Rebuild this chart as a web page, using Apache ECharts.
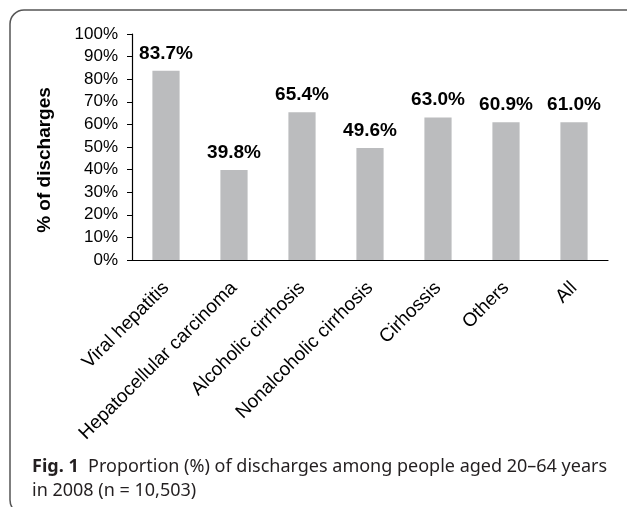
<!DOCTYPE html>
<html>
<head>
<meta charset="utf-8">
<script src="https://cdn.jsdelivr.net/npm/echarts@6/dist/echarts.min.js"></script>
<style>
  html, body { margin: 0; padding: 0; background: #fff; }
  #chart { width: 627px; height: 507px; }
</style>
</head>
<body>
<div id="chart"></div>
<script>
const categories = ['Viral hepatitis', 'Hepatocellular carcinoma', 'Alcoholic cirrhosis',
  'Nonalcoholic cirrhosis', 'Cirhossis', 'Others', 'All']
const shares = [83.7, 39.8, 65.4, 49.6, 63.0, 60.9, 61.0]
const yTicks = [0, 100, 10] // min, max, step

const axisFont = 'Liberation Sans, Arial, sans-serif'

const chart = echarts.init(document.getElementById('chart'))

const option = {
  animation: false,
  title: {
    left: 27,
    top: 450,
    text: '{b|Fig. 1}  Proportion (%) of discharges among people aged 20–64 years\nin 2008 (n = 10,503)',
    textStyle: {
      fontFamily: 'Noto Sans, sans-serif',
      fontSize: 18,
      fontWeight: 'normal',
      color: '#231f20',
      lineHeight: 24,
      rich: {
        b: { fontFamily: 'Noto Sans, sans-serif', fontSize: 18, fontWeight: 'bold', color: '#231f20', lineHeight: 24 }
      }
    }
  },
  graphic: [
    {
      type: 'rect',
      shape: { x: 10, y: 10, width: 650, height: 504, r: 14 },
      style: { fill: 'none', stroke: '#555', lineWidth: 1.5 }
    },
    {
      type: 'text',
      x: 45,
      y: 160,
      rotation: Math.PI / 2,
      style: {
        text: '% of discharges',
        font: 'bold 19px Liberation Sans, Arial, sans-serif',
        fill: '#000',
        align: 'center',
        verticalAlign: 'middle'
      }
    }
  ],
  grid: {
    left: 132,
    right: 19,
    top: 34,
    bottom: 247
  },
  xAxis: {
    type: 'category',
    data: categories,
    axisLine: { lineStyle: { color: '#000', width: 1.2 } },
    axisTick: { show: false },
    axisLabel: {
      rotate: 45,
      margin: 25,
      interval: 0,
      color: '#000',
      fontFamily: axisFont,
      fontSize: 19
    }
  },
  yAxis: {
    type: 'value',
    min: yTicks[0],
    max: yTicks[1],
    interval: yTicks[2],
    axisLine: { show: true, lineStyle: { color: '#000', width: 1.2 } },
    axisTick: { show: true, length: 5, lineStyle: { color: '#000' } },
    splitLine: { show: false },
    axisLabel: {
      formatter: '{value}%',
      margin: 14,
      color: '#000',
      fontFamily: axisFont,
      fontSize: 17
    }
  },
  series: [{
    type: 'bar',
    data: shares,
    barWidth: '40%',
    itemStyle: { color: '#bbbcbe' },
    label: {
      show: true,
      position: 'top',
      distance: 8,
      formatter: p => p.value.toFixed(1) + '%',
      color: '#000',
      fontFamily: axisFont,
      fontWeight: 'bold',
      fontSize: 19
    }
  }]
}

chart.setOption(option)
</script>
</body>
</html>
